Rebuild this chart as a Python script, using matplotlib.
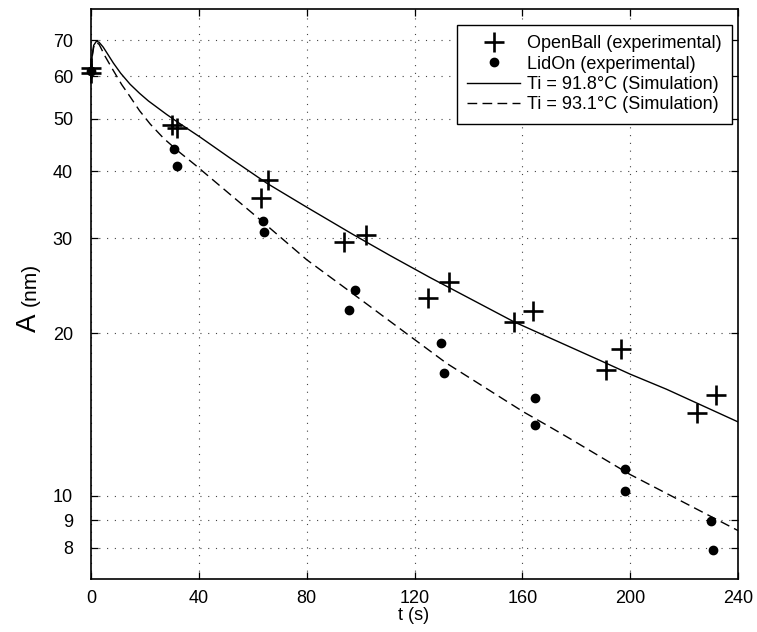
import matplotlib
matplotlib.use("Agg")
import matplotlib.pyplot as plt
from matplotlib.ticker import FixedLocator, FixedFormatter, NullLocator

plt.rcParams['font.family'] = ['Liberation Sans', 'DejaVu Sans']

# ---- data ----
t_open = [0, 0, 30.0, 32.0, 63.1, 65.8, 94.0, 102.0, 125.1, 132.9, 156.9, 163.8, 191.0, 196.5, 224.9, 231.8]
A_open = [62.2, 60.9, 48.7, 48.2, 35.6, 38.6, 29.6, 30.4, 23.3, 24.9, 21.0, 22.0, 17.1, 18.7, 14.2, 15.4]

t_lid = [0, 30.9, 32.0, 63.9, 64.0, 97.9, 95.8, 129.8, 130.9, 164.8, 164.8, 198.0, 198.0, 230.0, 230.8]
A_lid = [61.5, 43.9, 40.85, 32.3, 30.9, 24.1, 22.1, 19.2, 16.9, 15.2, 13.5, 11.2, 10.2, 8.98, 7.94]

t_sim1 = [0, 0.5, 1.0, 2.0, 3.0, 4.5, 6.0, 8.3, 11.0, 14.5, 18.0, 21.3, 28.0, 33.0, 40.4, 51.6, 65.2,
          80.0, 97.3, 110.9, 125.7, 157.0, 189.0, 200.0, 213.5, 240.0]
A_sim1 = [61.5, 66.0, 68.5, 69.7, 69.4, 68.0, 66.2, 63.5, 60.8, 58.0, 55.8, 54.0, 51.0, 49.0, 46.3, 42.3, 38.0,
          34.3, 30.5, 27.9, 25.4, 21.0, 17.8, 16.8, 15.75, 13.7]

t_sim2 = [0, 0.5, 1.0, 2.0, 3.0, 5.2, 7.7, 11.4, 14.5, 18.0, 22.0, 27.0, 33.0, 38.6, 61.5, 80.0, 98.6, 119.9,
          131.9, 160.4, 170.3, 177.7, 200.0, 240.0]
A_sim2 = [61.5, 65.5, 68.0, 69.3, 68.8, 65.4, 62.2, 57.9, 55.0, 51.8, 48.9, 46.0, 43.3, 41.1, 32.9, 27.4, 23.4, 19.5,
          17.6, 14.3, 13.4, 12.75, 10.94, 8.61]

x_ticks = [0, 40, 80, 120, 160, 200, 240]
y_ticks = [8, 9, 10, 20, 30, 40, 50, 60, 70]
y_tick_labels = ['8', '9', '10', '20', '30', '40', '50', '60', '70']

labels = ['OpenBall (experimental)', 'LidOn (experimental)',
          'Ti = 91.8°C (Simulation)', 'Ti = 93.1°C (Simulation)']

# ---- figure ----
W, H = 757, 632
fig = plt.figure(figsize=(W / 100, H / 100), dpi=100)
ax = fig.add_axes([91 / W, 1 - 579 / H, (738 - 91) / W, (579 - 9) / H])

ax.set_yscale('log')
ax.set_xlim(0, 240)
ax.set_ylim(7, 80)

ax.plot(t_open, A_open, linestyle='none', marker='+', markersize=14.5, markeredgewidth=1.9,
        color='black', label=labels[0], zorder=4, clip_on=False)
ax.plot(t_lid, A_lid, linestyle='none', marker='o', markersize=6, color='black',
        label=labels[1], zorder=4, clip_on=False)
ax.plot(t_sim1, A_sim1, color='black', linewidth=1.0, label=labels[2], zorder=3)
ax.plot(t_sim2, A_sim2, color='black', linewidth=1.0, linestyle=(0, (7.0, 3.8)),
        label=labels[3], zorder=3)

ax.xaxis.set_major_locator(FixedLocator(x_ticks))
ax.yaxis.set_major_locator(FixedLocator(y_ticks))
ax.yaxis.set_major_formatter(FixedFormatter(y_tick_labels))
ax.yaxis.set_minor_locator(NullLocator())
ax.xaxis.set_minor_locator(NullLocator())

ax.tick_params(which='both', direction='in', top=True, right=True, length=5, width=0.9,
               labelsize=13, colors='black')
ax.tick_params(axis='x', pad=8)
ax.tick_params(axis='y', pad=13)

ax.grid(True, which='major', color='#444444', linestyle=(0, (1, 6)), linewidth=0.8)
for s in ax.spines.values():
    s.set_linewidth(1.2)
    s.set_color('black')

leg = ax.legend(loc='upper right', bbox_to_anchor=(732 / W, 1 - 25 / H),
                bbox_transform=fig.transFigure, borderaxespad=0, fontsize=13,
                frameon=True, fancybox=False, framealpha=1, edgecolor='black',
                handlelength=2.9, handletextpad=0.4, labelspacing=0.18, borderpad=0.58,
                markerscale=1.0)
leg.get_frame().set_linewidth(1.0)
leg.set_zorder(10)

# axis labels
fig.text(414 / W, 1 - 615 / H, 't (s)', fontsize=13, ha='center', va='center')
fig.text(36 / W, 1 - 323 / H, 'A', fontsize=20, rotation=90, rotation_mode='anchor',
         ha='center', va='baseline')
fig.text(36 / W, 1 - 284 / H, '(nm)', fontsize=15, rotation=90, rotation_mode='anchor',
         ha='center', va='baseline')

fig.savefig('out.png', dpi=100)
